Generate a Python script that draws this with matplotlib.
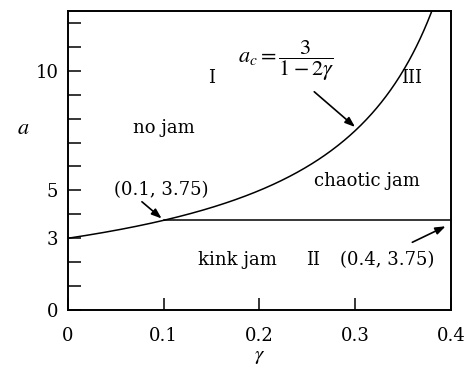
import numpy as np
import matplotlib
matplotlib.use("Agg")
import matplotlib.pyplot as plt

plt.rcParams['font.family'] = ['DejaVu Serif']
plt.rcParams['mathtext.fontset'] = 'stix'

# Phase boundary a_c = 3 / (1 - 2*gamma) and the kink/chaotic boundary a = 3.75
gamma_min, gamma_max = 0.0, 0.4
a_max = 12.5
a_kink = 3.75
gamma_split = 0.1
x_ticks = [0, 0.1, 0.2, 0.3, 0.4]
x_labels = ['0', '0.1', '0.2', '0.3', '0.4']
y_minor = list(range(0, 13))
y_major = [0, 3, 5, 10]

fig = plt.figure(figsize=(4.71, 3.70), dpi=100)
ax = fig.add_axes([0.1444, 0.1622, 0.8131, 0.808])

g = np.linspace(gamma_min, 0.385, 400)
ac = 3.0 / (1.0 - 2.0 * g)
ax.plot(g, ac, color='black', lw=1.1)
ax.plot([gamma_split, gamma_max], [a_kink, a_kink], color='black', lw=1.1)

ax.set_xlim(gamma_min, gamma_max)
ax.set_ylim(0, a_max)

ax.set_xticks(x_ticks)
ax.set_xticklabels(x_labels)
ax.set_yticks(y_minor)
ax.set_yticklabels([str(v) if v in y_major else '' for v in y_minor])
ax.tick_params(direction='in', length=9, width=1.1, labelsize=13, colors='black')
ax.tick_params(axis='x', pad=12)
ax.tick_params(axis='y', pad=7)
for s in ax.spines.values():
    s.set_linewidth(1.4)

ax.set_xlabel(r'$\gamma$', fontsize=15, labelpad=2)
ax.text(-0.047, 7.6, r'$a$', fontsize=16, ha='center', va='center')

fs = 13
ax.text(0.150, 9.7, 'I', fontsize=fs, ha='center', va='center')
ax.text(0.100, 7.6, 'no jam', fontsize=fs, ha='center', va='center')
ax.text(0.228, 10.45, r'$a_c = \dfrac{3}{1-2\gamma}$', fontsize=16, ha='center', va='center')
ax.text(0.359, 9.7, 'III', fontsize=fs, ha='center', va='center')
ax.text(0.312, 5.4, 'chaotic jam', fontsize=fs, ha='center', va='center')
ax.text(0.097, 5.0, '(0.1, 3.75)', fontsize=fs, ha='center', va='center')
ax.text(0.177, 2.08, 'kink jam', fontsize=fs, ha='center', va='center')
ax.text(0.256, 2.08, 'II', fontsize=fs, ha='center', va='center')
ax.text(0.333, 2.08, '(0.4, 3.75)', fontsize=fs, ha='center', va='center')

arrow = dict(arrowstyle='-|>,head_length=0.6,head_width=0.22', color='black', lw=1.2)
ax.annotate('', xy=(0.302, 3 / (1 - 2 * 0.302)), xytext=(0.255, 9.2), arrowprops=arrow)
ax.annotate('', xy=(gamma_split, a_kink), xytext=(0.075, 4.6), arrowprops=arrow)
ax.annotate('', xy=(0.397, 3.55), xytext=(0.357, 2.78), arrowprops=arrow)

fig.savefig('out.png', dpi=100)
